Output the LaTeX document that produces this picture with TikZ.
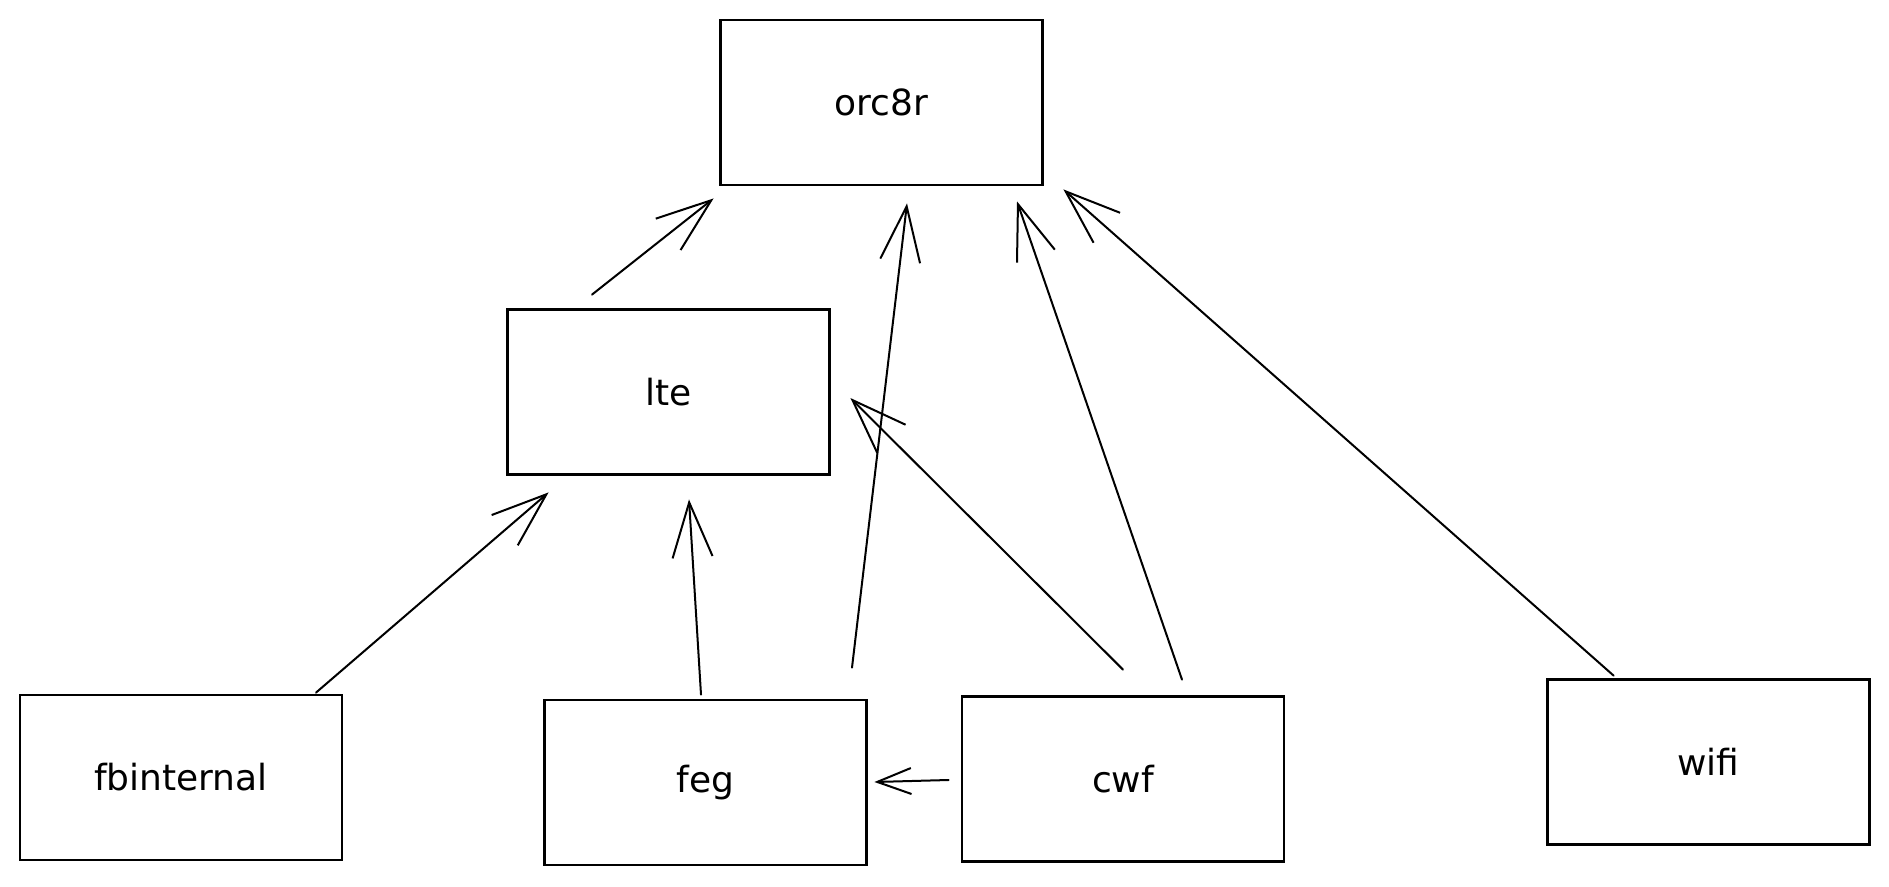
\documentclass[tikz,border=0pt]{standalone}
\usepackage{fontspec}
\setmainfont{DejaVu Sans}
\usetikzlibrary{arrows.meta,calc}
\begin{document}
\begin{tikzpicture}[x=1pt,y=-1pt,
  box/.style={draw,line width=2.8pt,minimum width=322pt,minimum height=165pt,
    inner sep=0pt,font=\fontsize{36}{42}\selectfont},
  link/.style={line width=2pt,line cap=round,
    -{Straight Barb[length=55pt,width=40pt,line width=2pt]}},
  shortlink/.style={line width=2pt,line cap=round,
    -{Straight Barb[length=34pt,width=26pt,line width=2pt]}}]
\useasboundingbox (0,0) rectangle (1889,886);

% components
\node[box] (orc8r) at (881.5,102.5) {orc8r};
\node[box] (lte)   at (668.5,392)   {lte};
\node[box] (fbi)   at (181,777.5)   {fbinternal};
\node[box] (feg)   at (705.5,782.5) {feg};
\node[box] (cwf)   at (1123,779)    {cwf};
\node[box] (wifi)  at (1708.5,762)  {wifi};

% dependencies
\draw[link] ($(lte.north)+(-76.5,-13.5)$) -- ($(orc8r.south west)+(-5.5,12)$);
\draw[link] ($(feg.north)+(146.5,-31)$)   -- ($(orc8r.south)+(25.5,17)$);
\draw[link] ($(cwf.north)+(59,-15.5)$)    -- ($(orc8r.south)+(135.5,15)$);
\draw[link] ($(wifi.north west)+(67.5,-2.5)$) -- ($(orc8r.south east)+(19.5,3)$);
\draw[link] ($(fbi.north)+(135,-1)$)      -- ($(lte.south west)+(42.5,16.5)$);
\draw[link] ($(feg.north)+(-4.5,-4)$)     -- ($(lte.south)+(20.5,23.5)$);
\draw[link] ($(cwf.north)+(0,-25.5)$)     -- ($(lte.east)+(19.5,6)$);
\draw[shortlink] ($(cwf.west)+(-12,1)$)   -- ($(feg.east)+(6.5,-0.5)$);
\end{tikzpicture}
\end{document}
